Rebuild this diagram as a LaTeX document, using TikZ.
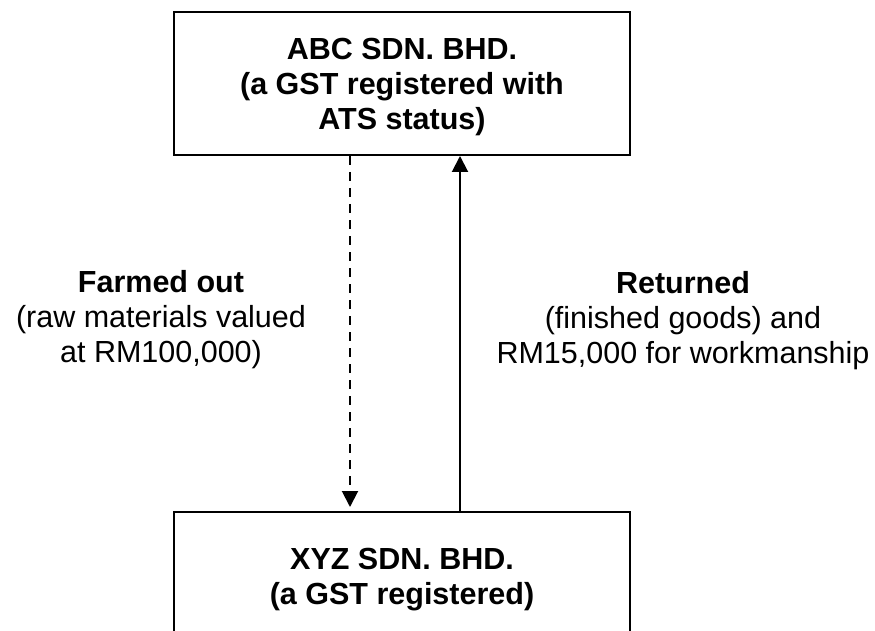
\documentclass[tikz,border=0pt]{standalone}
\usepackage{fontspec}
\setmainfont{Liberation Sans}
\usetikzlibrary{arrows.meta}
\begin{document}
\begin{tikzpicture}[x=1pt,y=-1pt,
  box/.style={draw=black,line width=2pt,align=center,inner sep=0pt,text depth=0pt,
    font=\fontsize{30.5}{35}\selectfont\bfseries},
  lbl/.style={align=center,inner sep=0pt,font=\fontsize{30.5}{35}\selectfont},
  flow/.style={line width=2pt,-{Triangle[width=16pt,length=16pt]}}]
\useasboundingbox (0,0) rectangle (875,631);
\clip (0,0) rectangle (875,631);
\node[box,minimum width=456pt,minimum height=143pt] (abc) at (402,83.5)
  {ABC SDN. BHD.\\(a GST registered with\\ATS status)};
\node[box,minimum width=456pt,minimum height=128pt] (xyz) at (402,576)
  {XYZ SDN. BHD.\\(a GST registered)};
\coordinate (dx) at (350,0);
\coordinate (sx) at (460,0);
\draw[flow,dash pattern=on 9pt off 7pt,shorten >=4pt] (abc.south -| dx) -- (xyz.north -| dx);
\draw[flow] (xyz.north -| sx) -- (abc.south -| sx);
\node[lbl,anchor=base] (farm) at (161,362)
  {\textbf{Farmed out}\\(raw materials valued\\at RM100,000)};
\node[lbl,anchor=base] (ret) at (683,363)
  {\textbf{Returned}\\(finished goods) and\\RM15,000 for workmanship};
\end{tikzpicture}
\end{document}
